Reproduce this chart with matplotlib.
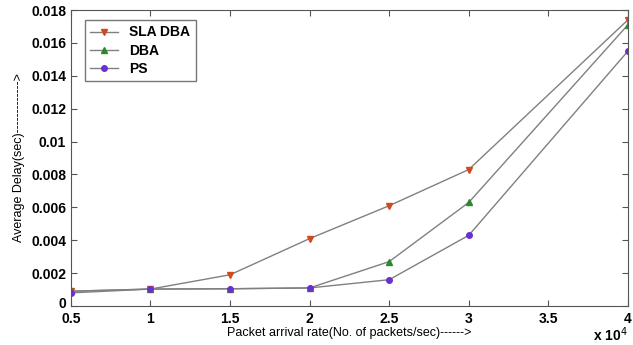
import numpy as np
import matplotlib.pyplot as plt
import matplotlib.transforms as mtransforms
from matplotlib.ticker import FuncFormatter

plt.rcParams['font.family'] = ['Liberation Sans', 'DejaVu Sans']

# packet arrival rate (packets/sec)
rates = [5000, 10000, 15000, 20000, 25000, 30000, 40000]
sla_dba = [0.0009, 0.00103, 0.0019, 0.0041, 0.0061, 0.0083, 0.0174]
dba = [0.0009, 0.00103, 0.00105, 0.0011, 0.0027, 0.0063, 0.0171]
ps = [0.0008, 0.00103, 0.00105, 0.0011, 0.0016, 0.0043, 0.0155]

x = np.array(rates) / 1e4

fig = plt.figure(figsize=(6.33, 3.45), dpi=100)
ax = fig.add_axes([0.112, 0.113, 0.88, 0.858])

ax.plot(x, sla_dba, color='#808080', lw=1, marker='v', ms=4.5,
        mfc='#d04a20', mec='#d04a20', label='SLA DBA')
ax.plot(x, dba, color='#808080', lw=1, marker='^', ms=4.5,
        mfc='#2a8a2a', mec='#2a8a2a', label='DBA')
ax.plot(x, ps, color='#808080', lw=1, marker='o', ms=4,
        mfc='#6a30d0', mec='#6a30d0', label='PS')

ax.set_xlim(0.5, 4)
ax.set_ylim(0, 0.018)
ax.set_xticks([0.5, 1, 1.5, 2, 2.5, 3, 3.5, 4])
ax.set_yticks(np.arange(0, 0.0181, 0.002))
ax.xaxis.set_major_formatter(FuncFormatter(lambda v, p: '%g' % v))
ax.yaxis.set_major_formatter(FuncFormatter(lambda v, p: '%g' % round(v, 4)))
ax.tick_params(direction='in', length=4, labelsize=10, top=True, right=True,
               labeltop=False, labelright=False, color='#555555')
ax.tick_params(axis='x', pad=4)
for lab in ax.get_xticklabels() + ax.get_yticklabels():
    lab.set_fontweight('bold')
for s in ax.spines.values():
    s.set_color('#555555')

# lift the "0" label a touch so it sits just above "0.5"
zero = ax.get_yticklabels()[0]
zero.set_transform(zero.get_transform() +
                   mtransforms.ScaledTranslation(0, 4 / 100, fig.dpi_scale_trans))

ax.set_xlabel('Packet arrival rate(No. of packets/sec)------>', fontsize=9, labelpad=1)
ax.set_ylabel('Average Delay(sec)------------->', fontsize=9, labelpad=4)
fig.text(0.992, 0.004, 'x 10$^4$', ha='right', va='bottom',
         fontsize=10, fontweight='bold')

leg = ax.legend(loc='upper left', prop={'weight': 'bold', 'size': 10},
                frameon=True, fancybox=False, edgecolor='#555555',
                handlelength=2.0, borderpad=0.4, labelspacing=0.3,
                bbox_to_anchor=(0.012, 0.99))

fig.savefig('out.png', dpi=100)
